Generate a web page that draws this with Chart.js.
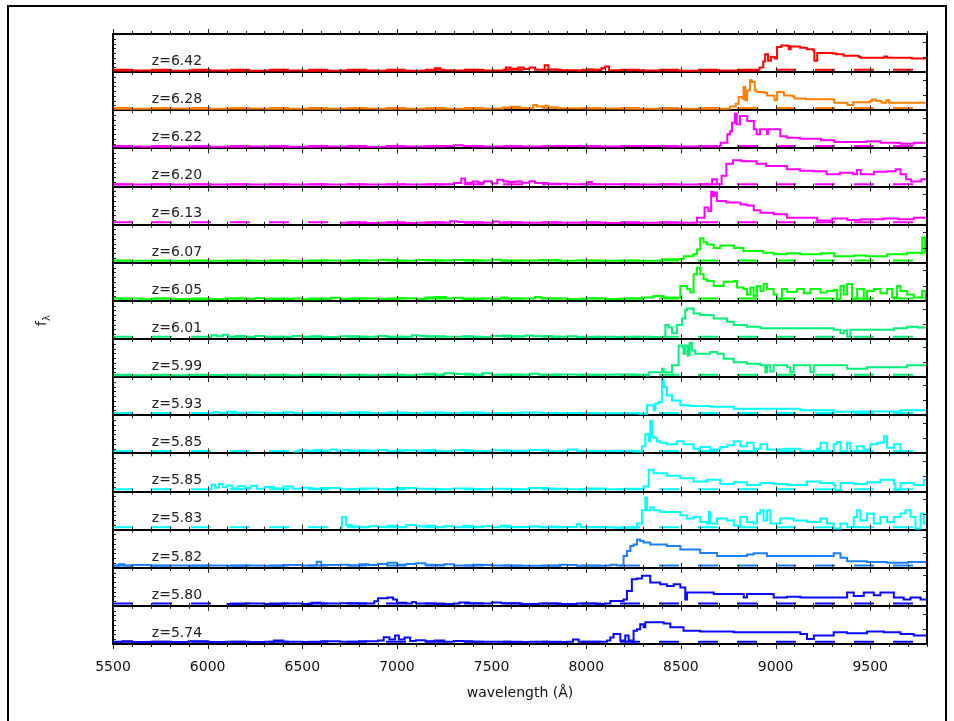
<!DOCTYPE html>
<html>
<head>
<meta charset="utf-8">
<title>z~6 quasar spectra</title>
<script src="https://cdn.jsdelivr.net/npm/chart.js@4.4.1/dist/chart.umd.min.js"></script>
<style>
  html, body { margin: 0; padding: 0; background: #fff; overflow: hidden; }
  #wrap { position: relative; width: 954px; height: 721px; overflow: hidden; }
  #frame { position: absolute; left: 7px; top: 5px; width: 940px; height: 760px;
           border: 2px solid #000; box-sizing: border-box; }
  #chart { position: absolute; left: 0; top: 0; }
</style>
</head>
<body>
<div id="wrap">
  <div id="frame"></div>
  <canvas id="chart" width="954" height="721"></canvas>
</div>
<script>
// redshift of each panel, top to bottom
const redshifts = ['6.42', '6.28', '6.22', '6.20', '6.13', '6.07', '6.05', '6.01',
                   '5.99', '5.93', '5.85', '5.85', '5.83', '5.82', '5.80', '5.74'];

const xTicks = [5500, 6000, 6500, 7000, 7500, 8000, 8500, 9000, 9500];

// spectra: [wavelength (A), flux in panel units]
const q642 = [[5500,.04],[5700,.035],[5900,.04],[6100,.035],[6300,.04],[6500,.035],[6700,.04],[6900,.035],
  [7150,.04],[7200,.1],[7230,.05],[7300,.045],[7400,.04],[7560,.05],[7575,.12],[7600,.09],[7640,.12],[7670,.08],
  [7700,.12],[7730,.06],[7770,.05],[7780,.18],[7800,.07],[7850,.05],[7950,.04],[8010,.07],[8040,.05],[8080,.1],
  [8100,.15],[8120,.05],[8300,.04],[8500,.035],[8700,.04],[8900,.035],[8915,.12],[8935,.28],[8945,.47],[8960,.3],
  [8975,.4],[8995,.36],[9008,.66],[9030,.7],[9060,.69],[9070,.6],[9080,.67],[9130,.64],[9165,.6],[9200,.57],
  [9205,.3],[9220,.5],[9300,.49],[9320,.47],[9360,.43],[9440,.4],[9450,.38],[9560,.38],[9575,.41],[9590,.38],
  [9710,.38],[9720,.36],[9800,.37]];

const q628 = [[5500,.04],[5700,.045],[5900,.04],[6100,.045],[6300,.04],[6500,.04],[6700,.045],[6900,.04],
  [7100,.04],[7300,.04],[7500,.045],[7560,.07],[7600,.09],[7650,.06],[7700,.05],[7720,.14],[7740,.1],[7780,.12],
  [7800,.08],[7850,.05],[8000,.045],[8200,.04],[8400,.04],[8600,.04],[8750,.045],[8760,.1],[8790,.17],[8805,.35],
  [8825,.3],[8831,.61],[8840,.26],[8850,.52],[8865,.79],[8875,.74],[8890,.52],[8900,.48],[8940,.46],[8955,.39],
  [8990,.38],[8995,.26],[9008,.48],[9040,.46],[9045,.39],[9090,.36],[9100,.31],[9160,.29],[9300,.28],[9310,.2],
  [9375,.19],[9380,.14],[9410,.21],[9500,.24],[9510,.28],[9530,.24],[9550,.24],[9560,.2],[9585,.26],[9600,.2],
  [9800,.2]];

const q622 = [[5500,.05],[5650,.04],[5800,.05],[6000,.045],[6200,.05],[6400,.045],[6600,.05],[6800,.045],
  [7000,.05],[7250,.06],[7300,.08],[7350,.06],[7400,.05],[7600,.05],[7800,.06],[8000,.05],[8200,.06],[8400,.05],
  [8600,.05],[8700,.05],[8710,.15],[8740,.15],[8745,.37],[8760,.45],[8770,.67],[8785,.91],[8795,.63],[8812,.85],
  [8830,.85],[8850,.72],[8885,.5],[8900,.37],[8918,.5],[8950,.5],[8955,.38],[8960,.5],[8990,.5],[9025,.32],
  [9060,.28],[9130,.25],[9240,.21],[9310,.17],[9480,.19],[9555,.15],[9660,.12],[9730,.15],[9800,.17]];

const q620 = [[5500,.05],[5700,.05],[5900,.055],[6100,.05],[6300,.05],[6500,.055],[6700,.05],[6900,.05],
  [7100,.05],[7250,.06],[7300,.09],[7340,.21],[7360,.1],[7400,.13],[7430,.1],[7460,.14],[7500,.08],[7530,.18],
  [7560,.14],[7590,.12],[7620,.13],[7660,.1],[7700,.14],[7730,.09],[7800,.07],[7900,.06],[8000,.05],[8010,.12],
  [8030,.06],[8200,.05],[8400,.05],[8600,.05],[8650,.05],[8665,.19],[8690,.06],[8715,.28],[8740,.6],[8775,.69],
  [8820,.66],[8900,.6],[8950,.54],[9060,.45],[9130,.41],[9200,.4],[9270,.32],[9340,.36],[9410,.32],[9430,.43],
  [9450,.32],[9520,.39],[9590,.4],[9635,.45],[9660,.32],[9690,.19],[9715,.13],[9770,.19],[9800,.32]];

const q613 = [[6700,.05],[6800,.04],[6900,.05],[7000,.045],[7100,.05],[7200,.05],[7280,.09],[7320,.07],
  [7360,.05],[7500,.05],[7510,.08],[7540,.05],[7700,.05],[7900,.05],[8100,.045],[8300,.05],[8500,.05],[8560,.05],
  [8585,.18],[8625,.45],[8645,.36],[8660,.86],[8670,.75],[8680,.84],[8690,.62],[8740,.58],[8815,.53],[8850,.5],
  [8885,.38],[8920,.31],[8990,.27],[9060,.18],[9130,.18],[9220,.11],[9300,.16],[9380,.12],[9450,.14],[9570,.16],
  [9650,.14],[9730,.18],[9800,.23]];

const q607 = [[5500,.05],[5700,.05],[5900,.05],[6100,.05],[6300,.055],[6500,.05],[6600,.06],[6700,.05],
  [6800,.06],[6900,.07],[7000,.05],[7100,.07],[7200,.06],[7300,.07],[7400,.06],[7500,.08],[7550,.05],[7650,.06],
  [7750,.07],[7850,.05],[7950,.06],[8050,.05],[8200,.05],[8350,.05],[8400,.09],[8500,.1],[8515,.17],[8565,.22],
  [8585,.35],[8602,.64],[8620,.54],[8638,.48],[8673,.39],[8708,.45],[8745,.45],[8780,.39],[8830,.31],[8890,.31],
  [8935,.26],[8990,.22],[9060,.25],[9130,.22],[9240,.25],[9310,.17],[9415,.19],[9480,.17],[9590,.22],[9695,.26],
  [9765,.24],[9775,.66],[9790,.26],[9800,.27]];

const q605 = [[5500,.07],[5540,.05],[5600,.06],[5650,.04],[5720,.06],[5800,.05],[5900,.04],[6000,.05],
  [6100,.06],[6200,.05],[6250,.07],[6300,.05],[6450,.06],[6500,.04],[6600,.05],[6650,.08],[6700,.05],[6800,.06],
  [6900,.05],[7000,.07],[7100,.05],[7150,.09],[7200,.1],[7260,.06],[7300,.08],[7350,.05],[7450,.06],[7500,.05],
  [7550,.09],[7580,.06],[7700,.06],[7730,.1],[7760,.07],[7800,.06],[7900,.05],[8000,.07],[8100,.05],[8200,.06],
  [8285,.04],[8294,.09],[8356,.13],[8409,.09],[8462,.08],[8497,.39],[8532,.31],[8550,.22],[8567,.7],[8585,.87],
  [8602,.7],[8620,.57],[8638,.52],[8673,.39],[8726,.5],[8779,.52],[8796,.35],[8831,.31],[8849,.17],[8867,.35],
  [8884,.13],[8902,.39],[8920,.26],[8937,.44],[8955,.31],[8990,.17],[9008,.04],[9034,.31],[9061,.24],[9114,.31],
  [9149,.2],[9184,.31],[9237,.22],[9272,.26],[9307,.29],[9325,.04],[9343,.39],[9360,.17],[9378,.44],[9404,.04],
  [9431,.31],[9466,.04],[9483,.26],[9519,.31],[9554,.2],[9589,.31],[9616,.09],[9642,.39],[9660,.26],[9695,.17],
  [9730,.09],[9774,.26],[9792,.04],[9800,.26]];

const q601 = [[6000,.05],[6020,.1],[6050,.07],[6080,.11],[6110,.06],[6150,.08],[6200,.05],[6250,.08],
  [6300,.05],[6350,.06],[6400,.05],[6450,.08],[6500,.06],[6550,.07],[6600,.05],[6700,.07],[6800,.06],[6900,.08],
  [6950,.05],[7000,.06],[7080,.1],[7120,.08],[7150,.07],[7250,.06],[7350,.07],[7400,.05],[7500,.08],[7560,.09],
  [7600,.07],[7680,.09],[7720,.07],[7780,.08],[7820,.06],[7900,.07],[7950,.05],[8050,.06],[8150,.05],[8250,.06],
  [8350,.05],[8400,.05],[8418,.37],[8435,.3],[8453,.15],[8479,.37],[8506,.54],[8523,.76],[8532,.8],[8567,.67],
  [8602,.63],[8673,.54],[8743,.45],[8779,.37],[8849,.32],[8920,.28],[9000,.28],[9100,.28],[9200,.28],[9307,.24],
  [9343,.15],[9360,.22],[9378,.06],[9395,.24],[9500,.24],[9625,.28],[9695,.32],[9750,.3],[9800,.32]];

const q599 = [[5500,.05],[5700,.05],[5900,.055],[6100,.05],[6300,.05],[6500,.06],[6700,.05],[6900,.06],
  [7000,.05],[7100,.07],[7150,.09],[7200,.06],[7250,.1],[7300,.08],[7350,.09],[7400,.06],[7450,.1],[7500,.06],
  [7600,.07],[7650,.06],[7700,.09],[7750,.06],[7850,.07],[7950,.06],[8050,.06],[8150,.07],[8250,.06],[8321,.04],
  [8330,.13],[8400,.22],[8409,.13],[8440,.13],[8453,.31],[8479,.31],[8488,.83],[8506,.79],[8514,.61],[8523,.83],
  [8536,.57],[8546,.9],[8558,.7],[8576,.61],[8655,.66],[8691,.61],[8726,.48],[8779,.39],[8849,.35],[8920,.31],
  [8946,.13],[8955,.31],[8973,.15],[8990,.31],[9061,.26],[9078,.13],[9096,.31],[9166,.31],[9184,.13],[9202,.31],
  [9307,.31],[9378,.22],[9483,.26],[9600,.26],[9695,.31],[9792,.31],[9800,.18]];

const q593 = [[6000,.05],[6030,.08],[6060,.06],[6100,.09],[6150,.06],[6200,.07],[6300,.06],[6400,.08],
  [6450,.06],[6550,.07],[6650,.06],[6750,.08],[6850,.06],[6950,.07],[7050,.06],[7150,.07],[7250,.06],[7350,.07],
  [7450,.06],[7550,.06],[7650,.07],[7750,.06],[7850,.06],[8000,.05],[8150,.05],[8280,.04],[8303,.04],[8321,.26],
  [8356,.13],[8365,.31],[8382,.35],[8400,.94],[8409,.74],[8426,.52],[8453,.39],[8497,.26],[8550,.24],[8655,.22],
  [8779,.17],[8955,.17],[9131,.13],[9307,.09],[9400,.1],[9483,.1],[9660,.13],[9800,.13]];

const q585a = [[6450,.05],[6480,.08],[6520,.06],[6560,.09],[6600,.07],[6650,.1],[6680,.07],[6720,.09],
  [6760,.06],[6800,.08],[6850,.07],[6900,.09],[6950,.06],[7000,.08],[7100,.07],[7150,.09],[7200,.06],[7300,.08],
  [7400,.06],[7500,.08],[7600,.07],[7700,.09],[7800,.06],[7900,.1],[7950,.07],[8050,.06],[8150,.07],[8250,.05],
  [8268,.05],[8294,.19],[8312,.5],[8330,.32],[8338,.85],[8347,.45],[8356,.41],[8373,.32],[8391,.28],[8426,.24],
  [8479,.32],[8514,.24],[8567,.12],[8602,.17],[8655,.1],[8708,.17],[8743,.21],[8779,.32],[8814,.19],[8849,.28],
  [8884,.12],[8920,.24],[8955,.1],[9043,.12],[9131,.06],[9219,.12],[9237,.28],[9272,.06],[9307,.24],[9325,.3],
  [9343,.06],[9378,.28],[9395,.06],[9431,.19],[9466,.1],[9501,.24],[9536,.28],[9572,.45],[9589,.15],[9625,.24],
  [9660,.06]];

const q585b = [[6000,.06],[6020,.18],[6040,.1],[6060,.2],[6080,.12],[6100,.16],[6130,.08],[6160,.14],
  [6200,.09],[6230,.15],[6260,.07],[6300,.12],[6350,.08],[6400,.13],[6450,.07],[6500,.1],[6550,.07],[6600,.09],
  [6700,.06],[6800,.08],[6900,.06],[7000,.09],[7100,.07],[7200,.06],[7300,.08],[7400,.06],[7500,.07],[7600,.06],
  [7700,.09],[7800,.07],[7900,.06],[8000,.08],[8100,.06],[8200,.07],[8280,.06],[8303,.13],[8330,.57],[8356,.48],
  [8426,.41],[8497,.35],[8567,.26],[8638,.31],[8708,.2],[8779,.24],[8849,.17],[8920,.22],[8990,.2],[9061,.17],
  [9166,.26],[9237,.22],[9307,.17],[9316,.04],[9343,.22],[9413,.2],[9483,.24],[9554,.31],[9625,.2],[9633,.04],
  [9660,.22],[9730,.17],[9783,.31],[9800,.2]];

const q583 = [[6700,.05],[6710,.33],[6730,.12],[6760,.08],[6800,.06],[6850,.09],[6900,.07],[6950,.1],
  [7000,.07],[7050,.12],[7100,.08],[7150,.1],[7200,.07],[7250,.09],[7300,.06],[7350,.1],[7400,.07],[7450,.09],
  [7500,.06],[7550,.1],[7600,.07],[7700,.08],[7750,.06],[7800,.08],[7850,.06],[7900,.07],[7950,.14],[7970,.07],
  [8050,.06],[8150,.05],[8250,.05],[8268,.16],[8294,.51],[8312,.84],[8321,.51],[8338,.59],[8356,.51],[8391,.46],
  [8426,.46],[8497,.38],[8532,.29],[8567,.33],[8602,.2],[8638,.16],[8647,.46],[8655,.16],[8691,.29],[8743,.24],
  [8779,.11],[8814,.33],[8849,.2],[8884,.16],[8902,.42],[8920,.51],[8937,.24],[8955,.51],[8973,.16],[9025,.29],
  [9096,.24],[9166,.2],[9237,.29],[9272,.16],[9307,.03],[9343,.16],[9378,.07],[9413,.33],[9431,.51],[9448,.24],
  [9483,.42],[9519,.16],[9554,.33],[9589,.2],[9625,.33],[9660,.42],[9686,.51],[9713,.33],[9739,.03],[9766,.42],
  [9783,.16],[9800,.33]];

const q582 = [[5500,.05],[5530,.09],[5560,.05],[5600,.07],[5700,.05],[5800,.06],[5900,.05],[6000,.06],
  [6100,.05],[6200,.06],[6300,.05],[6400,.07],[6500,.06],[6560,.06],[6576,.16],[6600,.07],[6700,.08],[6750,.06],
  [6800,.09],[6850,.07],[6900,.1],[6950,.13],[7000,.08],[7050,.1],[7100,.12],[7150,.08],[7200,.07],[7250,.09],
  [7300,.06],[7400,.08],[7450,.07],[7500,.06],[7600,.05],[7700,.05],[7800,.05],[7860,.08],[7900,.07],[7950,.05],
  [8050,.05],[8100,.06],[8130,.08],[8160,.06],[8197,.31],[8215,.44],[8233,.57],[8250,.61],[8268,.74],[8285,.7],
  [8303,.66],[8338,.61],[8426,.57],[8497,.48],[8602,.39],[8691,.31],[8779,.31],[8849,.35],[8884,.38],[8955,.31],
  [9131,.31],[9272,.31],[9307,.38],[9343,.26],[9378,.17],[9483,.15],[9589,.13],[9700,.15],[9800,.16]];

const q580 = [[6100,.05],[6200,.06],[6300,.05],[6400,.06],[6500,.05],[6550,.08],[6600,.06],[6700,.07],
  [6800,.06],[6880,.12],[6900,.2],[6950,.22],[6980,.17],[7000,.08],[7050,.06],[7080,.1],[7100,.06],[7200,.05],
  [7300,.06],[7330,.09],[7380,.07],[7450,.06],[7500,.09],[7550,.07],[7650,.05],[7750,.06],[7850,.05],[7950,.06],
  [8050,.05],[8100,.06],[8127,.13],[8180,.13],[8197,.17],[8215,.39],[8241,.7],[8268,.72],[8294,.79],[8312,.79],
  [8338,.61],[8391,.57],[8426,.52],[8462,.57],[8497,.48],[8523,.17],[8532,.35],[8602,.35],[8673,.31],[8779,.31],
  [8832,.22],[8849,.31],[8920,.31],[8990,.22],[9061,.24],[9131,.22],[9307,.22],[9378,.35],[9413,.26],[9466,.35],
  [9519,.28],[9554,.35],[9625,.22],[9677,.17],[9713,.22],[9766,.17],[9800,.22]];

const q574 = [[5500,.05],[5550,.07],[5600,.05],[5700,.06],[5800,.05],[5900,.07],[6000,.05],[6100,.06],
  [6200,.05],[6300,.06],[6350,.09],[6400,.06],[6500,.05],[6600,.07],[6700,.06],[6800,.07],[6900,.09],[6930,.18],
  [6960,.12],[6990,.22],[7010,.12],[7040,.17],[7070,.08],[7100,.1],[7150,.07],[7200,.09],[7250,.06],[7300,.08],
  [7350,.07],[7400,.06],[7500,.06],[7600,.05],[7700,.06],[7800,.05],[7900,.06],[7930,.12],[7960,.06],[8050,.06],
  [8109,.09],[8127,.17],[8144,.26],[8171,.26],[8180,.09],[8206,.22],[8224,.09],[8241,.02],[8250,.35],[8268,.39],
  [8285,.52],[8303,.44],[8312,.57],[8356,.57],[8409,.54],[8444,.44],[8514,.35],[8602,.33],[8779,.31],[8955,.31],
  [9131,.26],[9166,.13],[9202,.22],[9307,.31],[9378,.28],[9483,.33],[9572,.31],[9660,.26],[9730,.22],[9800,.28]];

const spectra = [q642, q628, q622, q620, q613, q607, q605, q601,
                 q599, q593, q585a, q585b, q583, q582, q580, q574];

const colors = ['#ff0000', '#ff8000', '#ff00ff', '#ff00ff', '#ff00ff', '#00ff00', '#00ff00', '#00f078',
                '#00f078', '#00ffff', '#00ffff', '#00ffff', '#00ffff', '#1e80ff', '#0a0aff', '#0a0aff'];

const W_MIN = 5500, W_MAX = 9800;
const N = spectra.length;
const ZERO = 0.06;        // zero-flux level inside a panel
const LABEL_W = 5705;     // where the z= labels start

// panel i (0 = top) sits between N-1-i and N-i on the y scale
const datasets = [];
spectra.forEach((spec, i) => {
  const base = N - 1 - i;
  datasets.push({
    data: spec.map(p => ({ x: p[0], y: base + p[1] })),
    borderColor: colors[i],
    borderWidth: 2,
    pointRadius: 0,
    stepped: true,
    fill: false
  });
  datasets.push({
    data: [{ x: W_MIN, y: base + ZERO }, { x: W_MAX, y: base + ZERO }],
    borderColor: colors[i],
    borderWidth: 2,
    borderDash: [20, 19],
    pointRadius: 0,
    fill: false
  });
});

// inward tick marks, right border, panel labels, y title
const panelDecor = {
  id: 'panelDecor',
  afterDatasetsDraw(chart) {
    const ctx = chart.ctx;
    const xs = chart.scales.x, ys = chart.scales.y;
    const a = chart.chartArea;
    ctx.save();
    ctx.strokeStyle = '#222';
    ctx.lineWidth = 1;
    ctx.beginPath();
    for (let k = 0; k <= N; k++) {
      const y = ys.getPixelForValue(k);
      for (let w = W_MIN; w <= W_MAX; w += 100) {
        const x = Math.round(xs.getPixelForValue(w)) + 0.5;
        const len = (w % 500 === 0) ? 5 : 3;
        if (k < N) { ctx.moveTo(x, y); ctx.lineTo(x, y + len); }
        if (k > 0) { ctx.moveTo(x, y); ctx.lineTo(x, y - len); }
      }
    }
    for (let k = 0; k < N; k++) {
      for (let f = 0.125; f < 1; f += 0.125) {
        const y = Math.round(ys.getPixelForValue(k + f)) + 0.5;
        ctx.moveTo(a.left, y); ctx.lineTo(a.left + 3, y);
      }
      for (const f of [0.4, 0.8]) {
        const y = Math.round(ys.getPixelForValue(k + f)) + 0.5;
        ctx.moveTo(a.right, y); ctx.lineTo(a.right - 4, y);
      }
    }
    ctx.stroke();

    ctx.strokeStyle = '#000';
    ctx.lineWidth = 2;
    ctx.beginPath();
    ctx.moveTo(a.right, a.top); ctx.lineTo(a.right, a.bottom);
    ctx.stroke();

    ctx.fillStyle = '#222';
    ctx.font = '14px "DejaVu Sans"';
    ctx.textBaseline = 'alphabetic';
    ctx.textAlign = 'left';
    redshifts.forEach((z, i) => {
      const base = N - 1 - i;
      ctx.fillText('z=' + z, xs.getPixelForValue(LABEL_W), ys.getPixelForValue(base + 0.19));
    });

    ctx.translate(46, 326);
    ctx.rotate(-Math.PI / 2);
    ctx.font = '14px "DejaVu Sans"';
    ctx.fillText('f', 0, 0);
    ctx.font = '10px "DejaVu Sans"';
    ctx.fillText('\u03bb', 5, 4);
    ctx.restore();
  }
};

new Chart(document.getElementById('chart'), {
  type: 'line',
  data: { datasets },
  options: {
    responsive: false,
    animation: false,
    layout: { padding: { left: 113, right: 27, top: 34, bottom: 0 } },
    plugins: { legend: { display: false }, tooltip: { enabled: false } },
    scales: {
      x: {
        type: 'linear',
        min: W_MIN,
        max: W_MAX,
        afterFit(s) { s.height = 77; },
        afterBuildTicks(s) { s.ticks = xTicks.map(v => ({ value: v })); },
        ticks: {
          autoSkip: false,
          maxRotation: 0,
          padding: 7,
          color: '#111',
          font: { family: 'DejaVu Sans', size: 14 },
          callback: v => String(v)
        },
        grid: { display: false },
        border: { display: false },
        title: {
          display: true,
          text: 'wavelength (\u00c5)',
          color: '#111',
          font: { family: 'DejaVu Sans', size: 14 },
          padding: { top: 4, bottom: 19 }
        }
      },
      y: {
        min: 0,
        max: N,
        afterFit(s) { s.width = 0; },
        ticks: { display: false, stepSize: 1 },
        grid: { color: '#000', lineWidth: 2, drawTicks: false },
        border: { display: true, color: '#000', width: 2 }
      }
    }
  },
  plugins: [panelDecor]
});
</script>
</body>
</html>
